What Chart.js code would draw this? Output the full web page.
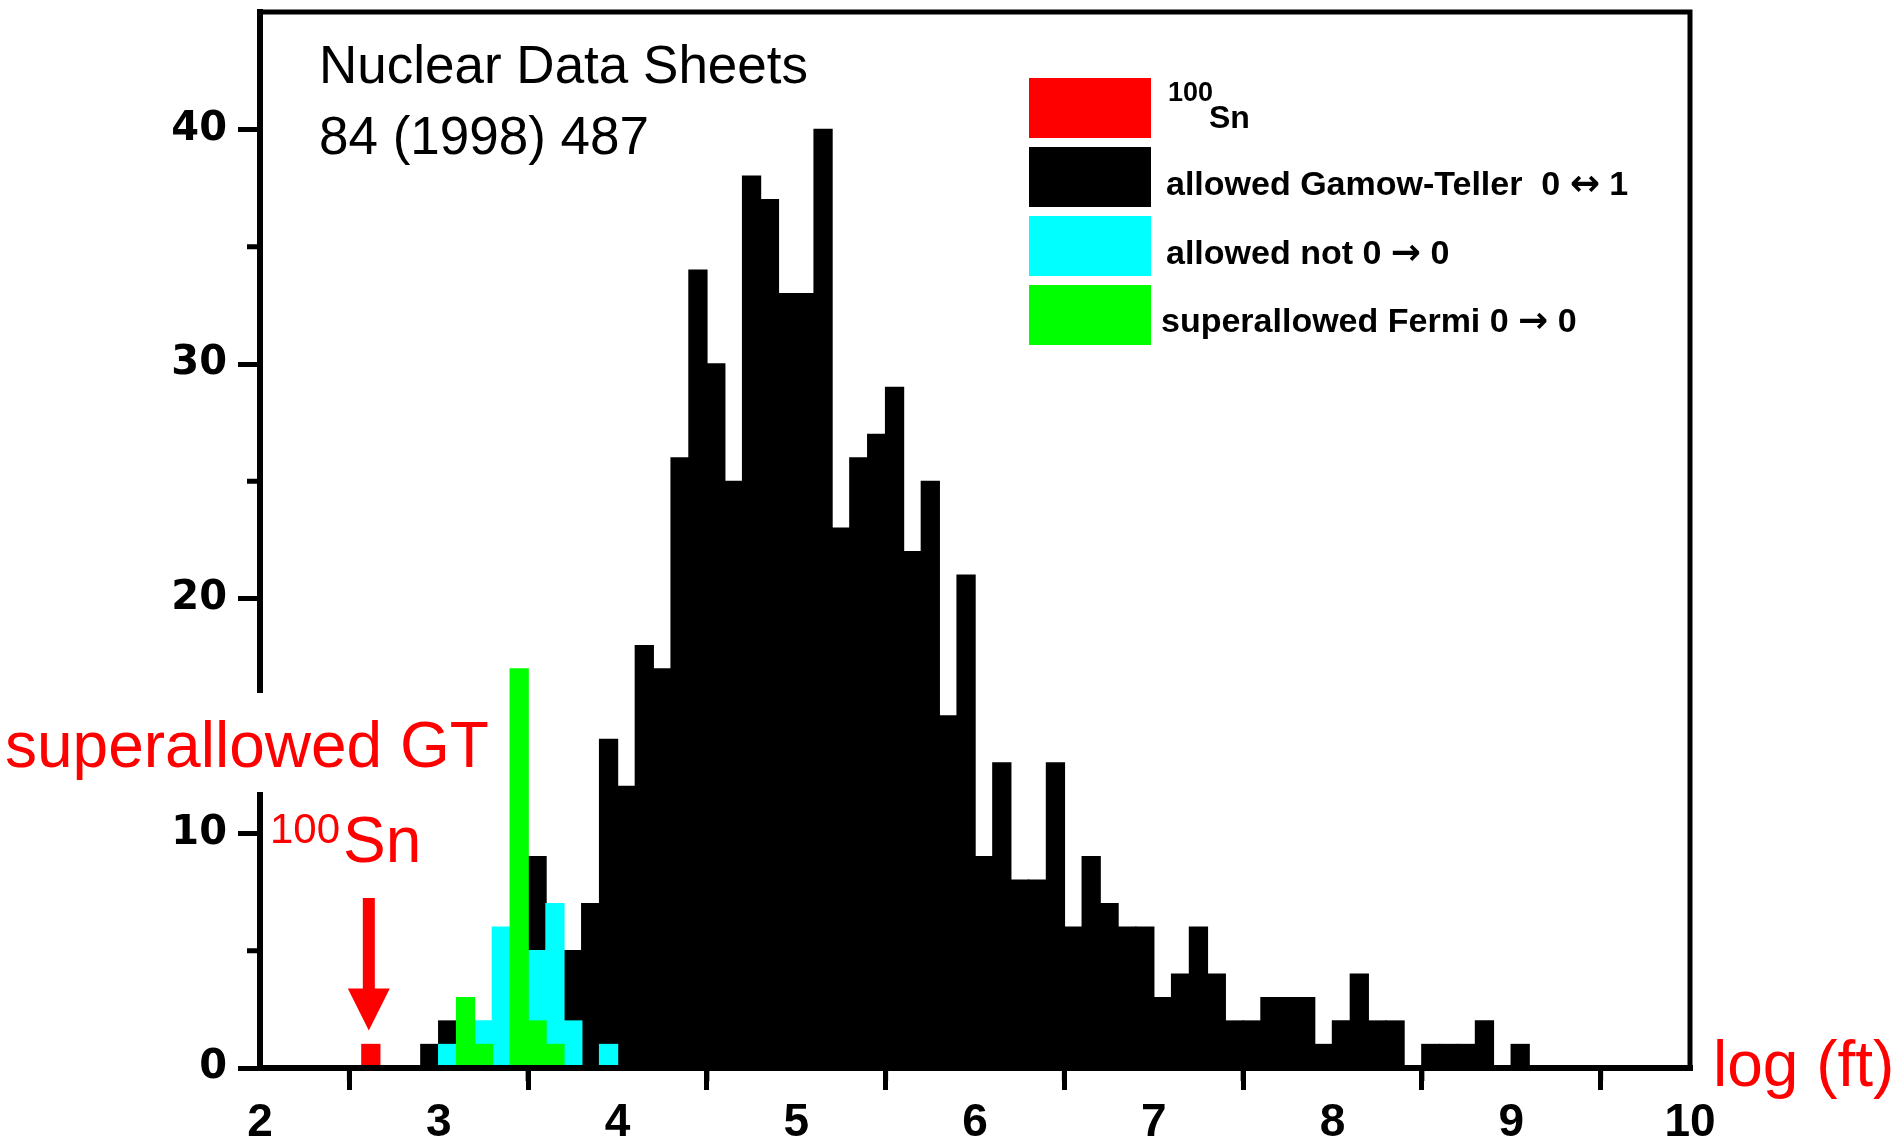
<!DOCTYPE html>
<html>
<head>
<meta charset="utf-8">
<script src="https://cdn.jsdelivr.net/npm/chart.js@4.4.1/dist/chart.umd.min.js"></script>
<style>
  html, body { margin: 0; padding: 0; background: #ffffff; }
  canvas { display: block; }
</style>
</head>
<body>
<canvas id="chart" width="1903" height="1145"></canvas>
<script>
// ---- data (bin centres of 0.1-wide log(ft) bins, counts per bin) ----
const binCenters = [
  2.95, 3.05, 3.15, 3.25, 3.35, 3.45, 3.55, 3.65, 3.75, 3.85,
  3.95, 4.05, 4.15, 4.25, 4.35, 4.45, 4.55, 4.65, 4.75, 4.85,
  4.95, 5.05, 5.15, 5.25, 5.35, 5.45, 5.55, 5.65, 5.75, 5.85,
  5.95, 6.05, 6.15, 6.25, 6.35, 6.45, 6.55, 6.65, 6.75, 6.85,
  6.95, 7.05, 7.15, 7.25, 7.35, 7.45, 7.55, 7.65, 7.75, 7.85,
  7.95, 8.05, 8.15, 8.25, 8.35, 8.45, 8.55, 8.65, 8.75, 8.85,
  8.95, 9.05
];
const gamowTellerCounts = [
  1, 2, 0, 0, 0, 0, 9, 0, 5, 7,
  14, 12, 18, 17, 26, 34, 30, 25, 38, 37,
  33, 33, 40, 23, 26, 27, 29, 22, 25, 15,
  21, 9, 13, 8, 8, 13, 6, 9, 7, 6,
  6, 3, 4, 6, 4, 2, 2, 3, 3, 3,
  1, 2, 4, 2, 2, 0, 1, 1, 1, 2,
  0, 1
];
const allowedNotBins   = [3.05, 3.25, 3.35, 3.55, 3.65, 3.75, 3.95];
const allowedNotCounts = [1, 2, 6, 5, 7, 2, 1];
const fermiBins   = [3.15, 3.25, 3.45, 3.55, 3.65];
const fermiCounts = [3, 1, 17, 2, 1];
const sn100Bins   = [2.62];
const sn100Counts = [1];

const xTickValues      = [2, 3, 4, 5, 6, 7, 8, 9, 10];
const xMinorTickValues = [2.5, 3.5, 4.5, 5.5, 6.5, 7.5, 8.5, 9.5];
const yTickValues      = [0, 10, 20, 30, 40];
const yMinorTickValues = [5, 15, 25, 35];

const legendColors = ['#ff0000', '#000000', '#00ffff', '#00ff00'];
// legend text runs: [text, isArrow]
const legendRuns = [
  null,
  [['allowed Gamow-Teller  0 ', false], ['\u2194', true], [' 1', false]],
  [['allowed not 0 ', false], ['\u2192', true], [' 0', false]],
  [['superallowed Fermi 0 ', false], ['\u2192', true], [' 0', false]]
];
const titleLines = ['Nuclear Data Sheets', '84 (1998) 487'];

// ---- helpers ----
const toPoints = (xs, ys) => xs.map((v, i) => ({ x: v, y: ys[i] }));
const barCommon = { grouped: false, barPercentage: 1, categoryPercentage: 1, borderWidth: 0, inflateAmount: 0.7 };
const TEXT_FONT = '"Liberation Sans", Arial, sans-serif';

function drawRuns(ctx, runs, x, y) {
  let cx = x;
  runs.forEach(([t, arrow]) => {
    ctx.font = arrow ? 'bold 36px "DejaVu Sans", sans-serif' : 'bold 34px ' + TEXT_FONT;
    ctx.fillText(t, cx, y);
    cx += ctx.measureText(t).width;
  });
}

const decorations = {
  id: 'decorations',
  afterDatasetsDraw(chart) {
    const { ctx, chartArea: a, scales: { x, y } } = chart;
    ctx.save();
    ctx.strokeStyle = '#000';
    ctx.lineCap = 'butt';
    // frame (redrawn over bars)
    ctx.lineWidth = 6;
    ctx.beginPath();
    ctx.moveTo(a.left, a.top - 2); ctx.lineTo(a.left, a.bottom + 3);
    ctx.moveTo(a.left - 3, a.bottom); ctx.lineTo(a.right + 3, a.bottom);
    ctx.stroke();
    ctx.lineWidth = 5;
    ctx.beginPath();
    ctx.moveTo(a.left - 3, a.top); ctx.lineTo(a.right + 2.5, a.top);
    ctx.moveTo(a.right, a.top); ctx.lineTo(a.right, a.bottom + 3);
    ctx.stroke();
    // minor ticks
    ctx.lineWidth = 5;
    ctx.beginPath();
    yMinorTickValues.forEach(v => {
      const py = y.getPixelForValue(v);
      ctx.moveTo(a.left - 3, py); ctx.lineTo(a.left - 13, py);
    });
    xMinorTickValues.forEach(v => {
      const px = x.getPixelForValue(v);
      ctx.moveTo(px, a.bottom + 3); ctx.lineTo(px, a.bottom + 13);
    });
    ctx.stroke();
    ctx.restore();
  },
  afterDraw(chart) {
    const { ctx, scales: { x, y } } = chart;
    ctx.save();
    ctx.textAlign = 'left';
    ctx.textBaseline = 'alphabetic';

    // reference text
    ctx.fillStyle = '#000';
    ctx.font = '53px ' + TEXT_FONT;
    ctx.fillText(titleLines[0], 319, 83);
    ctx.fillText(titleLines[1], 319, 154);

    // legend
    const lx = 1029, lw = 122, lh = 60, ly0 = 78, step = 69;
    legendColors.forEach((c, i) => {
      ctx.fillStyle = c;
      ctx.fillRect(lx, ly0 + i * step, lw, lh);
    });
    ctx.fillStyle = '#000';
    ctx.font = 'bold 27px ' + TEXT_FONT;
    ctx.fillText('100', 1168, 101);
    ctx.font = 'bold 32px ' + TEXT_FONT;
    ctx.fillText('Sn', 1209, 128);
    drawRuns(ctx, legendRuns[1], 1166, ly0 + step + 48);
    drawRuns(ctx, legendRuns[2], 1166, ly0 + 2 * step + 48);
    drawRuns(ctx, legendRuns[3], 1161, ly0 + 3 * step + 47);

    // red annotations
    ctx.fillStyle = '#ffffff';
    ctx.fillRect(0, 693, 496, 99);
    ctx.fillStyle = '#ff0000';
    ctx.font = '64px ' + TEXT_FONT;
    ctx.fillText('superallowed GT', 5, 767);
    ctx.fillText('Sn', 343, 862);
    ctx.fillText('log (ft)', 1713, 1086);
    ctx.font = '42px ' + TEXT_FONT;
    ctx.fillText('100', 270, 843);

    // arrow pointing at the 100Sn bar
    const ax = x.getPixelForValue(sn100Bins[0]) - 2;
    const tipY = y.getPixelForValue(sn100Counts[0]) - 14;
    ctx.fillRect(ax - 6, 898, 12, tipY - 40 - 898);
    ctx.beginPath();
    ctx.moveTo(ax - 21, tipY - 42);
    ctx.lineTo(ax + 21, tipY - 42);
    ctx.lineTo(ax, tipY);
    ctx.closePath();
    ctx.fill();
    ctx.restore();
  }
};

new Chart(document.getElementById('chart'), {
  type: 'bar',
  data: {
    datasets: [
      Object.assign({ label: '100Sn', data: toPoints(sn100Bins, sn100Counts), backgroundColor: '#ff0000' }, barCommon),
      Object.assign({ label: 'superallowed Fermi', data: toPoints(fermiBins, fermiCounts), backgroundColor: '#00ff00' }, barCommon),
      Object.assign({ label: 'allowed not 0-0', data: toPoints(allowedNotBins, allowedNotCounts), backgroundColor: '#00ffff' }, barCommon),
      Object.assign({ label: 'allowed Gamow-Teller', data: toPoints(binCenters, gamowTellerCounts), backgroundColor: '#000000' }, barCommon)
    ]
  },
  options: {
    responsive: false,
    devicePixelRatio: 1,
    animation: false,
    events: [],
    layout: { padding: { top: 12, right: 213, bottom: 0, left: 0 } },
    plugins: { legend: { display: false }, tooltip: { enabled: false } },
    scales: {
      x: {
        type: 'linear', min: 2, max: 10, offset: false,
        afterBuildTicks: s => { s.ticks = xTickValues.map(v => ({ value: v })); },
        afterFit: s => { s.height = 77; s.paddingLeft = 0; s.paddingRight = 0; },
        grid: { display: true, drawOnChartArea: false, drawTicks: true, tickLength: 22, tickWidth: 5, tickColor: '#000' },
        border: { display: true, width: 6, color: '#000' },
        ticks: {
          color: '#000', padding: 6, maxRotation: 0, autoSkip: false,
          font: { family: TEXT_FONT, size: 46, weight: 'bold' },
          callback: v => String(v)
        }
      },
      y: {
        type: 'linear', min: 0, max: 45,
        afterBuildTicks: s => { s.ticks = yTickValues.map(v => ({ value: v })); },
        afterFit: s => { s.width = 260; s.paddingTop = 0; s.paddingBottom = 0; },
        grid: { display: true, drawOnChartArea: false, drawTicks: true, tickLength: 22, tickWidth: 5, tickColor: '#000' },
        border: { display: true, width: 6, color: '#000' },
        ticks: {
          color: '#000', padding: 11,
          font: { family: '"DejaVu Sans", sans-serif', size: 40, weight: 'bold' },
          callback: v => String(v)
        }
      }
    }
  },
  plugins: [decorations]
});
</script>
</body>
</html>
